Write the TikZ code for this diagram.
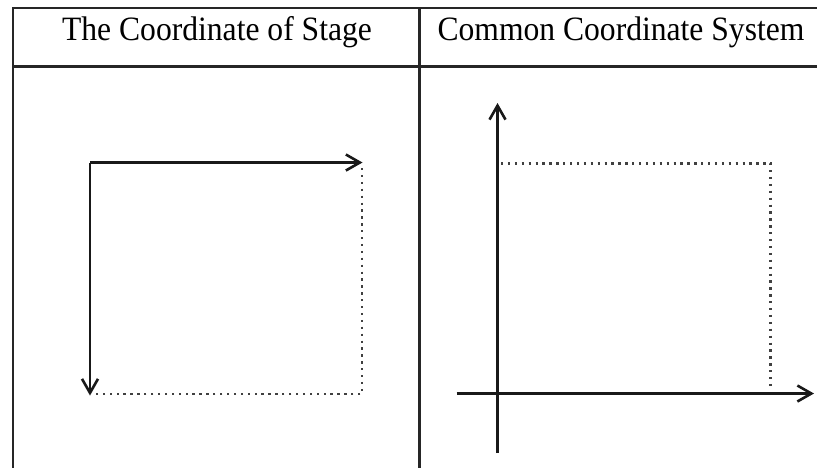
\documentclass[tikz,border=0pt]{standalone}
\usepackage{fontspec}
\setmainfont{Liberation Serif}
\usetikzlibrary{arrows.meta}
\begin{document}
\begin{tikzpicture}[x=1pt,y=-1pt,
  frame/.style={line width=2.4pt,black!85},
  axis/.style={line width=2.8pt,black!90,-{Straight Barb[length=14pt,width=16pt,line width=2.6pt]}},
  dots/.style={line width=2.3pt,black!75,dash pattern=on 2.3pt off 4.6pt},
  head/.style={font=\fontsize{31.6}{36}\selectfont,inner sep=0pt,anchor=base}]
\useasboundingbox (0,0) rectangle (817,467);
\fill[white] (0,0) rectangle (817,467);
\begin{scope}
\clip (0,0) rectangle (817,467);
% table
\coordinate (tl) at (12.7,8);
\coordinate (tr) at (830,8);
\coordinate (bl) at (12.7,480);
\coordinate (ml) at (12.7,66.5);
\coordinate (mr) at (830,66.5);
\coordinate (ct) at (419.3,8);
\coordinate (cb) at (419.3,480);
\draw[frame] (bl) -- (tl) -- (tr);
\draw[frame] (ml) -- (mr);
\draw[frame] (ct) -- (cb);
\end{scope}
\node[head] (h1) at (217,40) {\scalebox{1}[1.08]{The Coordinate of Stage}};
\node[head] (h2) at (621,40) {\scalebox{1}[1.08]{Common Coordinate System}};
% left figure
\coordinate (o1) at (90,162.5);
\coordinate (x1) at (362.5,162.5);
\coordinate (y1) at (90,395.5);
\coordinate (d1a) at (362,168);
\coordinate (d1b) at (362,394);
\coordinate (d1c) at (95,394);
\draw[dots] (d1a) -- (d1b) -- (d1c);
\draw[axis] (o1) -- (x1);
\draw[axis] (o1) -- (y1);
% right figure
\coordinate (vb) at (497.5,453);
\coordinate (vt) at (497.5,103);
\coordinate (hl) at (456.7,393.5);
\coordinate (hr) at (814,393.5);
\coordinate (d2a) at (501,163.5);
\coordinate (d2b) at (770.5,163.5);
\coordinate (d2c) at (770.5,390);
\draw[dots] (d2a) -- (d2b) -- (d2c);
\draw[axis] (vb) -- (vt);
\draw[axis] (hl) -- (hr);
\end{tikzpicture}
\end{document}
